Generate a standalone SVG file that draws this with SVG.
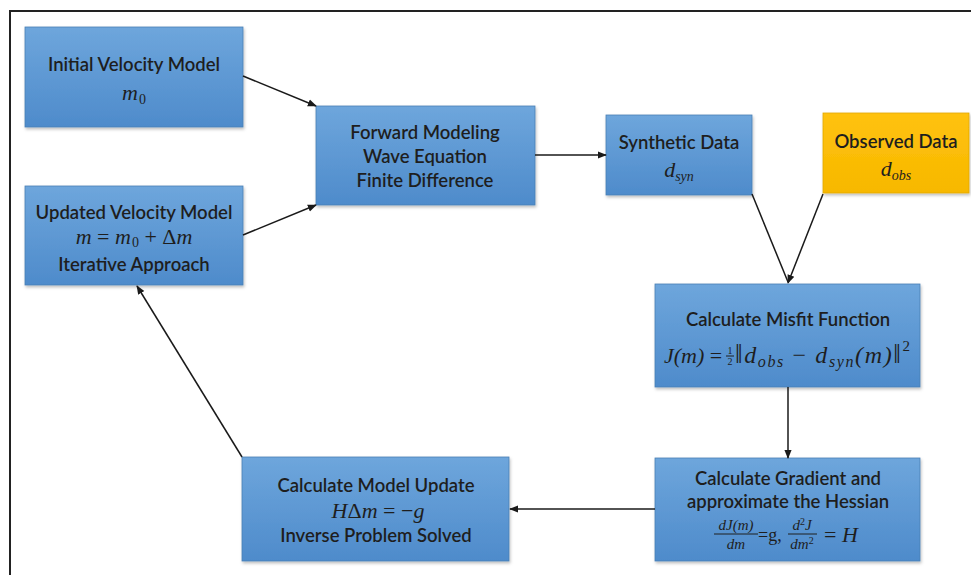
<svg xmlns="http://www.w3.org/2000/svg" width="971" height="575" viewBox="0 0 971 575">
<defs>
<linearGradient id="blue" x1="0" y1="0" x2="0" y2="1">
<stop offset="0" stop-color="#6EA6DC"/>
<stop offset="1" stop-color="#4E8BCB"/>
</linearGradient>
<linearGradient id="orange" x1="0" y1="0" x2="0" y2="1">
<stop offset="0" stop-color="#FFC20E"/>
<stop offset="1" stop-color="#F7B800"/>
</linearGradient>
<filter id="sh" x="-5%" y="-5%" width="115%" height="120%">
<feDropShadow dx="1" dy="2" stdDeviation="1.5" flood-color="#000" flood-opacity="0.25"/>
</filter>
<marker id="arr" viewBox="0 0 10 10" refX="9" refY="5" markerWidth="6" markerHeight="6" orient="auto-start-reverse">
<path d="M0,1 L10,5 L0,9 z" fill="#1a1a1a"/>
</marker>
</defs>
<style>
.box{fill:url(#blue);stroke:#4A7FB5;stroke-width:0.8;filter:url(#sh)}
.obs{fill:url(#orange);stroke:#E0A800;stroke-width:0.8;filter:url(#sh)}
.t{font-family:Lato,"Open Sans","Liberation Sans",sans-serif;font-size:18.5px;font-weight:600;fill:#1e1e1e;text-anchor:middle}
.m{font-family:"Liberation Serif","DejaVu Serif",serif;font-style:italic;font-size:22px;fill:#1e1e1e;text-anchor:middle}
.s{text-anchor:start}
.n{font-style:normal}
.sub{font-size:14px}
.f{font-size:15px}
.c{stroke:#1a1a1a;stroke-width:1.5;fill:none;marker-end:url(#arr)}
.bar{stroke:#1e1e1e;stroke-width:1}
</style>
<rect width="971" height="575" fill="#fff"/>
<path d="M10,575 L10,11 L971,11" fill="none" stroke="#222" stroke-width="2"/>

<g id="n-initial">
<rect class="box" x="25" y="27" width="218" height="100"/>
<text class="t" x="134" y="71">Initial Velocity Model</text>
<text class="m" x="134" y="100">m<tspan class="sub n" dy="4" dx="1">0</tspan></text>
</g>

<g id="n-updated">
<rect class="box" x="25" y="186" width="218" height="99"/>
<text class="t" x="134" y="219">Updated Velocity Model</text>
<text class="m" x="134" y="244">m <tspan class="n">=</tspan> m<tspan class="sub n" dy="3" dx="1">0</tspan><tspan dy="-3" class="n"> + Δ</tspan>m</text>
<text class="t" x="134" y="271">Iterative Approach</text>
</g>

<g id="n-forward">
<rect class="box" x="316" y="106" width="219" height="99"/>
<text class="t" x="425" y="139">Forward Modeling</text>
<text class="t" x="425" y="163">Wave Equation</text>
<text class="t" x="425" y="187">Finite Difference</text>
</g>

<g id="n-synthetic">
<rect class="box" x="606" y="115" width="146" height="80"/>
<text class="t" x="679" y="149">Synthetic Data</text>
<text class="m" x="679" y="177">d<tspan class="sub" dy="4">syn</tspan></text>
</g>

<g id="n-observed">
<rect class="obs" x="823" y="113" width="146" height="80"/>
<text class="t" x="896" y="148">Observed Data</text>
<text class="m" x="896" y="176">d<tspan class="sub" dy="4">obs</tspan></text>
</g>

<g id="n-misfit">
<rect class="box" x="655" y="284" width="265" height="103"/>
<text class="t" x="788" y="326">Calculate Misfit Function</text>
<text class="m s" x="664" y="363">J(m) <tspan class="n">=</tspan></text>
<text class="m n" x="730" y="354" style="font-size:10px">1</text>
<line class="bar" x1="726" y1="356" x2="734" y2="356" stroke-width="0.8"/>
<text class="m n" x="730" y="365" style="font-size:10px">2</text>
<text class="m s" x="735" y="363" style="font-size:24px" textLength="175" lengthAdjust="spacing"><tspan class="n" style="font-size:27px">‖</tspan>d<tspan style="font-size:16px" dy="4">obs</tspan><tspan class="n" dy="-4"> − </tspan>d<tspan style="font-size:16px" dy="4">syn</tspan><tspan dy="-4">(m)</tspan><tspan class="n" style="font-size:27px">‖</tspan><tspan class="n" style="font-size:15px" dy="-12">2</tspan></text>
</g>

<g id="n-gradient">
<rect class="box" x="655" y="458" width="265" height="103"/>
<text class="t" x="788" y="485">Calculate Gradient and</text>
<text class="t" x="788" y="508">approximate the Hessian</text>
<text class="m f" x="736" y="530">dJ(m)</text>
<line class="bar" x1="714" y1="534" x2="758" y2="534"/>
<text class="m f" x="736" y="549">dm</text>
<text class="m s n" x="758" y="541" style="font-size:18px">=g,</text>
<text class="m f" x="802" y="530">d<tspan class="n" style="font-size:10px" dy="-5">2</tspan><tspan dy="5">J</tspan></text>
<line class="bar" x1="788" y1="534" x2="817" y2="534"/>
<text class="m f" x="802" y="549">dm<tspan class="n" style="font-size:10px" dy="-5">2</tspan></text>
<text class="m s" x="824" y="542"><tspan class="n">= </tspan>H</text>
</g>

<g id="n-update">
<rect class="box" x="242" y="457" width="267" height="104"/>
<text class="t" x="376" y="492">Calculate Model Update</text>
<text class="m" x="378" y="518">H<tspan class="n">Δ</tspan>m <tspan class="n">= −</tspan>g</text>
<text class="t" x="376" y="542">Inverse Problem Solved</text>
</g>

<g id="connectors">
<line class="c" x1="243" y1="76" x2="316" y2="106"/>
<line class="c" x1="243" y1="235" x2="316" y2="205"/>
<line class="c" x1="535" y1="155" x2="606" y2="155"/>
<line x1="752" y1="194" x2="788" y2="282" stroke="#1a1a1a" stroke-width="1.5"/>
<line class="c" x1="823" y1="194" x2="788" y2="283"/>
<line class="c" x1="788" y1="387" x2="788" y2="458"/>
<line class="c" x1="655" y1="509" x2="510" y2="509"/>
<line class="c" x1="242" y1="457" x2="137" y2="286"/>
</g>
</svg>
